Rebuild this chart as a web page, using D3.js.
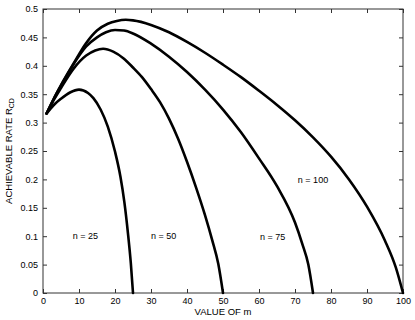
<!DOCTYPE html>
<html>
<head>
<meta charset="utf-8">
<script src="https://cdn.jsdelivr.net/npm/d3@7"></script>
<style>
  html, body { margin: 0; padding: 0; background: #fff; }
  svg { display: block; font-family: "Liberation Sans", Arial, Helvetica, sans-serif; }
</style>
</head>
<body>
<svg id="chart" width="415" height="320"></svg>
<script>
// ---- data ----
const xTicks = [0, 10, 20, 30, 40, 50, 60, 70, 80, 90, 100];
const xTickLabels = ["0", "10", "20", "30", "40", "50", "60", "70", "80", "90", "100"];
const yTicks = [0, 0.05, 0.1, 0.15, 0.2, 0.25, 0.3, 0.35, 0.4, 0.45, 0.5];
const yTickLabels = ["0", "0.05", "0.1", "0.15", "0.2", "0.25", "0.3", "0.35", "0.4", "0.45", "0.5"];

const seriesNames = ["n = 25", "n = 50", "n = 75", "n = 100"];

const m25 = [1, 3, 5, 7.5, 10, 12.5, 14, 16, 18, 20, 21.5, 22.6, 23.6, 24.4, 25];
const rate25 = [0.316, 0.331, 0.342, 0.353, 0.358, 0.352, 0.343, 0.323, 0.293, 0.249, 0.205, 0.160, 0.105, 0.052, 0];

const m50 = [1, 3, 5, 8.5, 12, 14.5, 16.7, 19.5, 22.4, 25, 27.5, 30, 32.5, 35, 37.5, 40, 42.5, 45, 47, 48.7, 50];
const rate50 = [0.316, 0.340, 0.361, 0.395, 0.418, 0.427, 0.430, 0.425, 0.413, 0.397, 0.380, 0.359, 0.336, 0.307, 0.272, 0.231, 0.186, 0.137, 0.093, 0.051, 0];

const m75 = [1, 3, 5, 8.5, 12, 15, 17.5, 20, 22.5, 25, 30, 35, 40, 45, 50, 55, 60, 65, 70, 72, 73.7, 75];
const rate75 = [0.316, 0.342, 0.365, 0.403, 0.434, 0.450, 0.459, 0.463, 0.462, 0.457, 0.439, 0.416, 0.389, 0.358, 0.323, 0.283, 0.237, 0.188, 0.124, 0.087, 0.050, 0];

const m100 = [1, 3, 5, 8.5, 12, 15, 18, 20.5, 23, 25, 30, 35, 40, 45, 50, 55, 60, 65, 70, 75, 80, 85, 90, 95, 98, 100];
const rate100 = [0.316, 0.342, 0.366, 0.404, 0.440, 0.462, 0.474, 0.479, 0.481, 0.480, 0.472, 0.459, 0.442, 0.423, 0.402, 0.380, 0.356, 0.331, 0.304, 0.274, 0.240, 0.200, 0.152, 0.092, 0.045, 0];

const labelM = [11.8, 33.5, 63.8, 75.0];
const labelRate = [0.100, 0.100, 0.099, 0.200];

// ---- drawing ----
const svg = d3.select("#chart");
const plotLeft = 43, plotRight = 403, plotTop = 9, plotBottom = 293;

const x = d3.scaleLinear().domain([0, 100]).range([plotLeft, plotRight]);
const y = d3.scaleLinear().domain([0, 0.5]).range([plotBottom, plotTop]);

const fontSize = 9;
const axisColor = "#333";

// frame
svg.append("rect")
  .attr("x", plotLeft).attr("y", plotTop)
  .attr("width", plotRight - plotLeft).attr("height", plotBottom - plotTop)
  .attr("fill", "none").attr("stroke", axisColor).attr("stroke-width", 1);

function styleAxis(g) {
  g.select(".domain").remove();
  g.selectAll(".tick line").attr("stroke", axisColor);
  g.selectAll(".tick text").attr("fill", "#000").style("font-size", fontSize + "px")
    .style("font-family", '"Liberation Sans", Arial, Helvetica, sans-serif');
}

svg.append("g").attr("transform", `translate(0,${plotBottom})`)
  .call(d3.axisBottom(x).tickValues(xTicks).tickFormat((d, i) => xTickLabels[i])
    .tickSizeInner(-4).tickSizeOuter(0).tickPadding(5))
  .call(styleAxis);

svg.append("g").attr("transform", `translate(0,${plotTop})`)
  .call(d3.axisTop(x).tickValues(xTicks).tickFormat("")
    .tickSizeInner(-4).tickSizeOuter(0))
  .call(styleAxis);

svg.append("g").attr("transform", `translate(${plotLeft},0)`)
  .call(d3.axisLeft(y).tickValues(yTicks).tickFormat((d, i) => yTickLabels[i])
    .tickSizeInner(-4).tickSizeOuter(0).tickPadding(5))
  .call(styleAxis);

svg.append("g").attr("transform", `translate(${plotRight},0)`)
  .call(d3.axisRight(y).tickValues(yTicks).tickFormat("")
    .tickSizeInner(-4).tickSizeOuter(0))
  .call(styleAxis);

// curves
const series = [
  { m: m25, r: rate25 },
  { m: m50, r: rate50 },
  { m: m75, r: rate75 },
  { m: m100, r: rate100 }
];

const line = d3.line()
  .x(d => x(d[0]))
  .y(d => y(d[1]))
  .curve(d3.curveMonotoneX);

svg.append("g").selectAll("path")
  .data(series)
  .join("path")
  .attr("d", s => line(s.m.map((mv, i) => [mv, s.r[i]])))
  .attr("fill", "none")
  .attr("stroke", "#000")
  .attr("stroke-width", 2.6)
  .attr("stroke-linejoin", "round")
  .attr("stroke-linecap", "round");

// in-plot labels
svg.append("g").selectAll("text")
  .data(seriesNames)
  .join("text")
  .attr("x", (d, i) => x(labelM[i]))
  .attr("y", (d, i) => y(labelRate[i]))
  .attr("dy", "0.35em")
  .attr("text-anchor", "middle")
  .style("font-size", fontSize + "px")
  .text(d => d);

// axis titles
svg.append("text")
  .attr("x", (plotLeft + plotRight) / 2)
  .attr("y", 315)
  .attr("text-anchor", "middle")
  .style("font-size", "9.5px")
  .text("VALUE OF m");

const yTitle = svg.append("text")
  .attr("transform", `translate(12,${(plotTop + plotBottom) / 2}) rotate(-90)`)
  .attr("text-anchor", "middle")
  .style("font-size", "9.5px");
yTitle.append("tspan").text("ACHIEVABLE RATE R");
yTitle.append("tspan").attr("dy", "0.3em").style("font-size", "7px").text("CD");
</script>
</body>
</html>
